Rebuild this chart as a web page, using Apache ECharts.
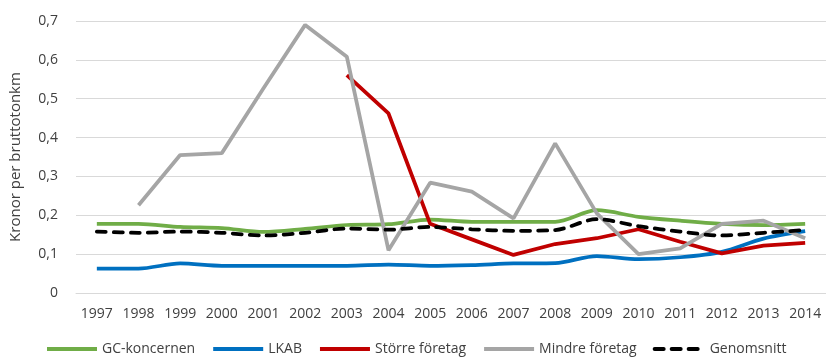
<!DOCTYPE html>
<html><head><meta charset="utf-8">
<script src="https://cdn.jsdelivr.net/npm/echarts@6/dist/echarts.min.js"></script>
<style>html,body{margin:0;padding:0;background:#fff}#c{width:826px;height:361px}</style>
</head><body><div id="c"></div>
<script>
const years = ['1997','1998','1999','2000','2001','2002','2003','2004','2005','2006','2007','2008','2009','2010','2011','2012','2013','2014'];
const gcKoncernen = [0.178,0.178,0.170,0.167,0.157,0.165,0.175,0.177,0.189,0.183,0.183,0.183,0.213,0.196,0.186,0.178,0.175,0.178];
const lkab = [0.063,0.063,0.076,0.070,0.070,0.070,0.070,0.073,0.070,0.072,0.076,0.077,0.095,0.087,0.092,0.106,0.140,0.159];
const storreForetag = [null,null,null,null,null,null,0.561,0.462,0.178,0.138,0.098,0.126,0.141,0.164,0.132,0.102,0.122,0.129];
const mindreForetag = [null,0.226,0.355,0.360,0.527,0.690,0.608,0.110,0.284,0.261,0.192,0.385,0.205,0.100,0.115,0.178,0.186,0.141];
const genomsnitt = [0.158,0.155,0.158,0.155,0.148,0.155,0.166,0.163,0.170,0.164,0.160,0.162,0.190,0.172,0.158,0.148,0.155,0.162];
const yTicks = [0,0.1,0.2,0.3,0.4,0.5,0.6,0.7];

const font = '"Open Sans", sans-serif';
const txt = '#404040';
function ser(name, data, color, smooth, dashed) {
  return {
    name, type: 'line', data, symbol: 'none', smooth: smooth ? 0.3 : false,
    connectNulls: false,
    lineStyle: dashed ? { color, width: 3.75, type: [9, 8], cap: 'round' } : { color, width: 3.75 },
    itemStyle: { color },
    emphasis: { disabled: true }
  };
}
const chart = echarts.init(document.getElementById('c'), null, { renderer: 'canvas' });
chart.setOption({
  animation: false,
  grid: { left: 71, right: -3, top: 21, bottom: 68 },
  legend: {
    bottom: 0, left: 40, itemWidth: 50, itemHeight: 10, itemGap: 16,
    itemStyle: { opacity: 0 },
    lineStyle: { width: 4 },
    textStyle: { fontFamily: font, fontSize: 14, color: txt },
    data: ['GC-koncernen','LKAB','Större företag','Mindre företag','Genomsnitt']
  },
  xAxis: {
    type: 'category', data: years, boundaryGap: true,
    axisLine: { show: true, lineStyle: { color: '#d9d9d9', width: 1 } },
    axisTick: { show: false },
    axisLabel: { fontFamily: font, fontSize: 14, color: txt, margin: 14, interval: 0 }
  },
  yAxis: {
    type: 'value', min: 0, max: 0.7, interval: 0.1,
    name: 'Kronor per bruttotonkm', nameLocation: 'middle', nameGap: 53, nameRotate: 90,
    nameTextStyle: { fontFamily: font, fontSize: 15, color: txt },
    axisLine: { show: false }, axisTick: { show: false },
    splitLine: { lineStyle: { color: '#d9d9d9', width: 1 } },
    axisLabel: { fontFamily: font, fontSize: 14, color: txt, margin: 18,
      formatter: v => { const t = yTicks.find(x => Math.abs(x - v) < 1e-9); return t === 0 ? '0' : String(+v.toFixed(1)).replace('.', ','); } }
  },
  series: [
    ser('GC-koncernen', gcKoncernen, '#70ad47', true),
    ser('LKAB', lkab, '#0070c0', true),
    ser('Större företag', storreForetag, '#c00000', false),
    ser('Mindre företag', mindreForetag, '#a5a5a5', false),
    ser('Genomsnitt', genomsnitt, '#000000', true, true)
  ]
});
</script></body></html>
